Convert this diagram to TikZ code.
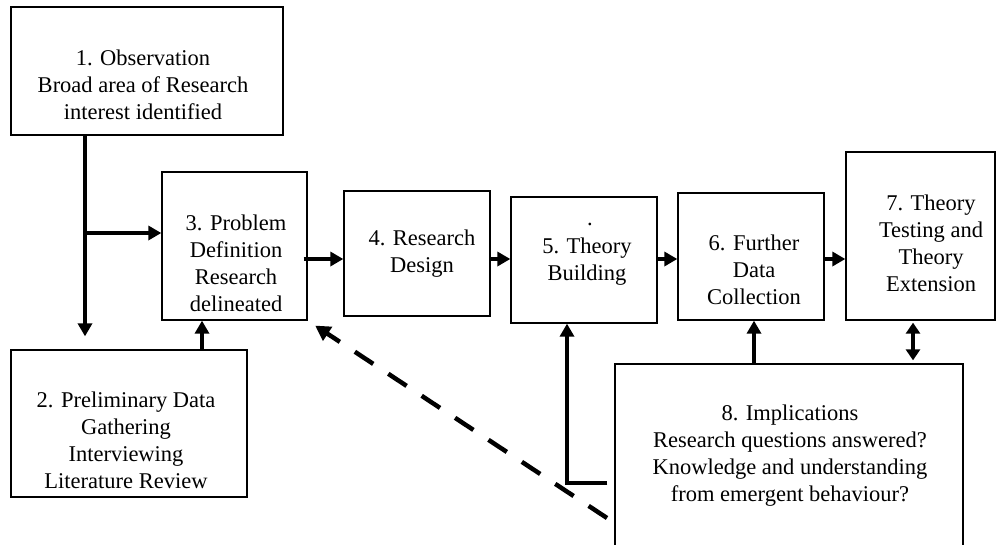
\documentclass[tikz,border=0pt]{standalone}
\usepackage{fontspec}
\setmainfont{Liberation Serif}
\usetikzlibrary{arrows.meta}

\tikzset{
  box/.style={draw, line width=1.3pt, rectangle, inner sep=0pt},
  txt/.style={align=center, inner sep=0pt, font=\fontsize{22.5}{27}\selectfont},
  arr/.style={line width=4pt, -{Triangle[length=13pt,width=14pt]}},
  darr/.style={line width=4pt, {Triangle[length=11pt,width=14pt]}-{Triangle[length=11pt,width=14pt]}},
  dasharr/.style={line width=4.5pt, dash pattern=on 22pt off 18pt, -{Triangle[length=15pt,width=16pt]}},
}

\begin{document}
\begin{tikzpicture}[x=1pt, y=-1pt]
\useasboundingbox (0,0) rectangle (1000,544);
\clip (0,0) rectangle (1000,544);

% boxes
\node[box, minimum width=272pt, minimum height=128pt] (b1) at (147,71) {};
\node[box, minimum width=236pt, minimum height=147pt] (b2) at (129,423.5) {};
\node[box, minimum width=145pt, minimum height=148pt] (b3) at (234.5,246) {};
\node[box, minimum width=146pt, minimum height=125pt] (b4) at (417,253.5) {};
\node[box, minimum width=146pt, minimum height=126pt] (b5) at (584,260) {};
\node[box, minimum width=146pt, minimum height=127pt] (b6) at (751,256.5) {};
\node[box, minimum width=149pt, minimum height=168pt] (b7) at (920.5,236) {};
\node[box, minimum width=348pt, minimum height=196pt] (b8) at (789,462) {};

% labels
\node[txt] (t1) at (143,85) {1. Observation\\Broad area of Research\\interest identified};
\node[txt] (t2) at (126,440) {2. Preliminary Data\\Gathering\\Interviewing\\Literature Review};
\node[txt] (t3) at (236,263) {3. Problem\\Definition\\Research\\delineated};
\node[txt] (t4) at (422,254) {4. Research\\Design};
\node[txt] (t5) at (587,262) {5. Theory\\Building};
\node[txt] (dot5) at (590,224) {.};
\node[txt] (t6) at (754,270) {6. Further\\Data\\Collection};
\node[txt] (t7) at (931,243) {7. Theory\\Testing and\\Theory\\Extension};
\node[txt] (t8) at (790,456) {8. Implications\\Research questions answered?\\Knowledge and understanding\\from emergent behaviour?};

% reference points for connectors
\coordinate (row) at (0,259);
\coordinate (c1) at (85,0);
\coordinate (j) at (85,233);
\coordinate (c23) at (202,0);
\coordinate (c86) at (754,0);
\coordinate (c78) at (913,0);
\coordinate (t85) at (567,483);
\coordinate (d0) at (607,518);

% observation feeds literature and problem definition
\draw[arr, shorten >=13pt] (b1.south -| c1) -- (b2.north -| c1);
\draw[arr] (j) -- (j -| b3.west);
\draw[arr] (b2.north -| c23) -- (b3.south -| c23);

% main chain
\draw[arr, shorten <=-4pt] (b3.east |- row) -- (b4.west |- row);
\draw[arr] (b4.east |- row) -- (b5.west |- row);
\draw[arr] (b5.east |- row) -- (b6.west |- row);
\draw[arr] (b6.east |- row) -- (b7.west |- row);

% feedback from implications
\draw[arr] (b8.north -| c86) -- (b6.south -| c86);
\draw[darr, shorten <=2pt, shorten >=3pt] (b7.south -| c78) -- (b8.north -| c78);
\draw[arr, shorten <=7pt] (b8.west |- t85) -- (t85) -- (t85 |- b5.south);
\draw[dasharr, shorten >=9pt] (d0) -- (b3.south east);
\end{tikzpicture}
\end{document}
